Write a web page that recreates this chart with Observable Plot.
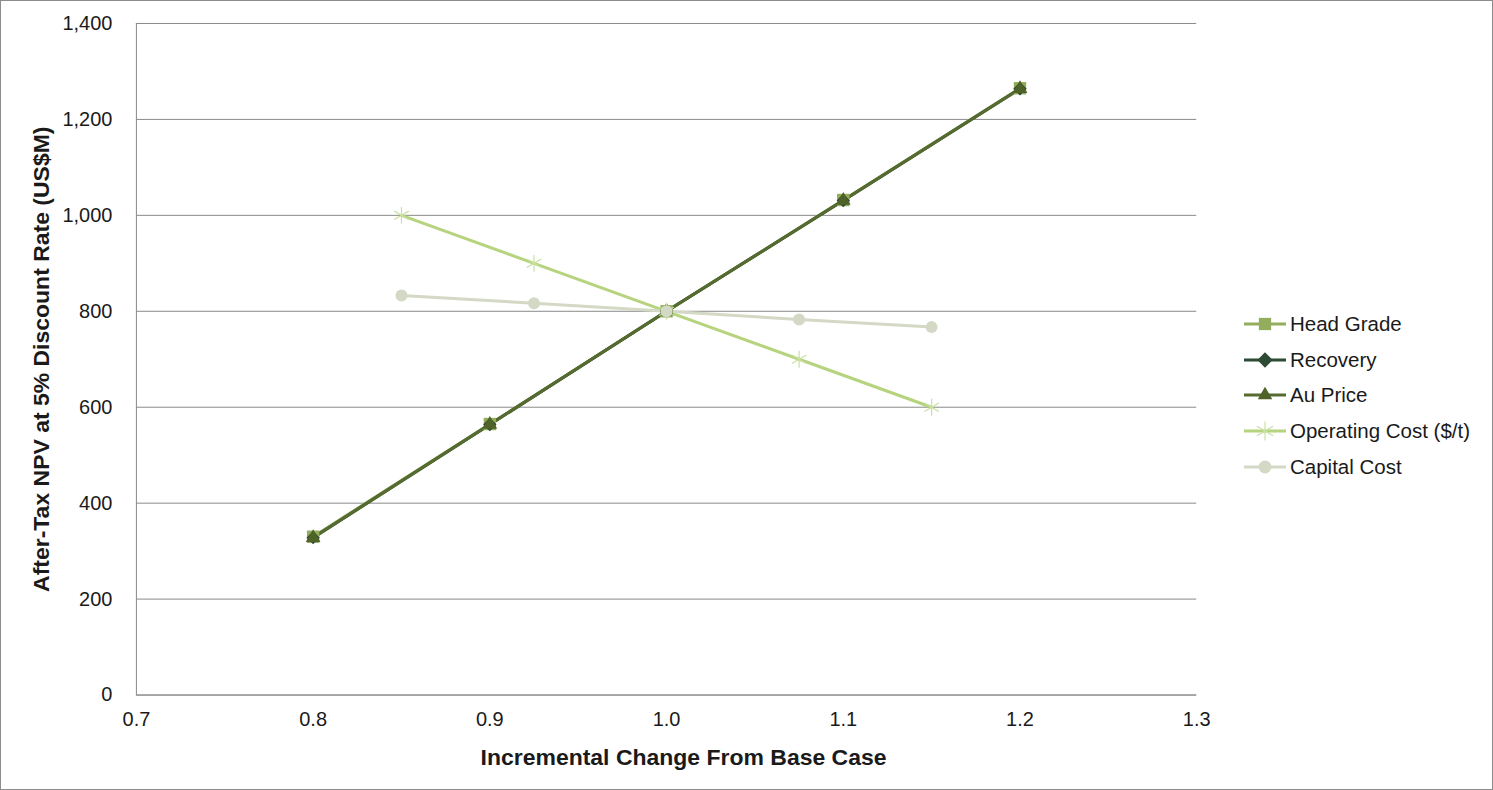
<!DOCTYPE html>
<html>
<head>
<meta charset="utf-8">
<script src="https://cdn.jsdelivr.net/npm/d3@7"></script>
<script src="https://cdn.jsdelivr.net/npm/@observablehq/plot@0.6"></script>
<style>
  html, body { margin: 0; padding: 0; background: #fff; }
  #wrap { position: relative; width: 1493px; height: 790px; box-sizing: border-box; border: 1px solid #8c8c8c; overflow: hidden; font-family: "Liberation Sans", Arial, sans-serif; }
  #chart { position: absolute; left: -1px; top: -1px; }
  #legend { position: absolute; left: 1242px; top: 305px; font-size: 20.5px; color: #1a1a1a; }
  .item { display: flex; align-items: center; height: 35.8px; }
  .item svg { margin-right: 3px; }
</style>
</head>
<body>
<div id="wrap"><div id="chart"></div><div id="legend"></div></div>
<script>
const seriesNames = ["Head Grade", "Recovery", "Au Price", "Operating Cost ($/t)", "Capital Cost"];
const seriesColors = ["#93ad5c", "#2d4a35", "#566b2f", "#b6d37d", "#d3d9c5"];
const markerColors = ["#93ad5c", "#2d4a35", "#4f6228", "#c9e0a2", "#d3d9c5"];
const seriesSymbols = ["square", "diamond2", "triangle2", "asterisk", "circle"];

const headGradeX = [0.8, 0.9, 1.0, 1.1, 1.2];
const headGradeY = [330, 565, 800, 1032, 1265];
const recoveryX = [0.8, 0.9, 1.0, 1.1, 1.2];
const recoveryY = [328, 564, 800, 1031, 1264];
const auPriceX = [0.8, 0.9, 1.0, 1.1, 1.2];
const auPriceY = [328, 564, 800, 1031, 1264];
const opCostX = [0.85, 0.925, 1.0, 1.075, 1.15];
const opCostY = [1000, 900, 800, 700, 600];
const capCostX = [0.85, 0.925, 1.0, 1.075, 1.15];
const capCostY = [833, 817, 800, 783, 767];

const xTicks = [0.7, 0.8, 0.9, 1.0, 1.1, 1.2, 1.3];
const yTicks = [0, 200, 400, 600, 800, 1000, 1200, 1400];

const xTitle = "Incremental Change From Base Case";
const yTitle = "After-Tax NPV at 5% Discount Rate (US$M)";

const allX = [headGradeX, recoveryX, auPriceX, opCostX, capCostX];
const allY = [headGradeY, recoveryY, auPriceY, opCostY, capCostY];
const data = [];
seriesNames.forEach((s, i) => allX[i].forEach((x, j) => data.push({series: s, idx: i, x, y: allY[i][j]})));

const sizes = [7, 6, 7, 8, 6];
const marks = [
  Plot.gridY(yTicks, {stroke: "#8a8a8a", strokeOpacity: 1, strokeWidth: 1}),
  Plot.ruleX([0.7], {stroke: "#8a8a8a"}),
  Plot.ruleY([0], {stroke: "#8a8a8a"}),
  Plot.axisX({ticks: xTicks, tickSize: 0, tickPadding: 17, tickFormat: d3.format(".1f"), fontSize: 20, label: null}),
  Plot.axisY({ticks: yTicks, tickSize: 0, tickPadding: 24, tickFormat: d3.format(","), fontSize: 20, label: null}),
];
seriesNames.forEach((s, i) => {
  const d = data.filter(r => r.idx === i);
  marks.push(Plot.line(d, {x: "x", y: "y", stroke: seriesColors[i], strokeWidth: 3}));
});
seriesNames.forEach((s, i) => {
  const d = data.filter(r => r.idx === i);
  if (seriesSymbols[i] === "asterisk") {
    marks.push(Plot.dot(d, {x: "x", y: "y", symbol: "asterisk", r: sizes[i], stroke: markerColors[i], strokeWidth: 1.2, fill: "none"}));
  } else {
    marks.push(Plot.dot(d, {x: "x", y: "y", symbol: seriesSymbols[i], r: sizes[i], fill: markerColors[i], stroke: "none"}));
  }
});
marks.push(Plot.text([yTitle], {frameAnchor: "left", dx: -95, rotate: -90, textAnchor: "middle", lineAnchor: "middle", fontSize: 23, fontWeight: "bold", fill: "#1a1a1a"}));
marks.push(Plot.text([xTitle], {frameAnchor: "bottom", dx: 17, dy: 63, textAnchor: "middle", lineAnchor: "middle", fontSize: 23, fontWeight: "bold", fill: "#1a1a1a"}));

const chart = Plot.plot({
  width: 1493,
  height: 790,
  marginLeft: 136,
  marginRight: 296,
  marginTop: 23,
  marginBottom: 95,
  style: {fontFamily: "'Liberation Sans', Arial, sans-serif", color: "#1a1a1a", background: "transparent", overflow: "visible"},
  x: {domain: [0.7, 1.3]},
  y: {domain: [0, 1400]},
  marks
});
document.getElementById("chart").appendChild(chart);

// legend
const legend = document.getElementById("legend");
seriesNames.forEach((s, i) => {
  const item = document.createElement("div");
  item.className = "item";
  const sym = d3.symbol().type({
    square: d3.symbolSquare, diamond2: d3.symbolDiamond2, triangle2: d3.symbolTriangle2,
    asterisk: d3.symbolAsterisk, circle: d3.symbolCircle
  }[seriesSymbols[i]]).size(seriesSymbols[i] === "circle" ? 130 : seriesSymbols[i] === "asterisk" ? 250 : 150)();
  const isAst = seriesSymbols[i] === "asterisk";
  item.innerHTML = `<svg width="44" height="24" viewBox="0 0 44 24">
    <line x1="1" x2="43" y1="12" y2="12" stroke="${seriesColors[i]}" stroke-width="3"/>
    <path transform="translate(22,12)" d="${sym}" ${isAst ? `fill="none" stroke="${markerColors[i]}" stroke-width="1.2"` : `fill="${markerColors[i]}"`}/>
  </svg><span>${s}</span>`;
  legend.appendChild(item);
});
</script>
</body>
</html>
